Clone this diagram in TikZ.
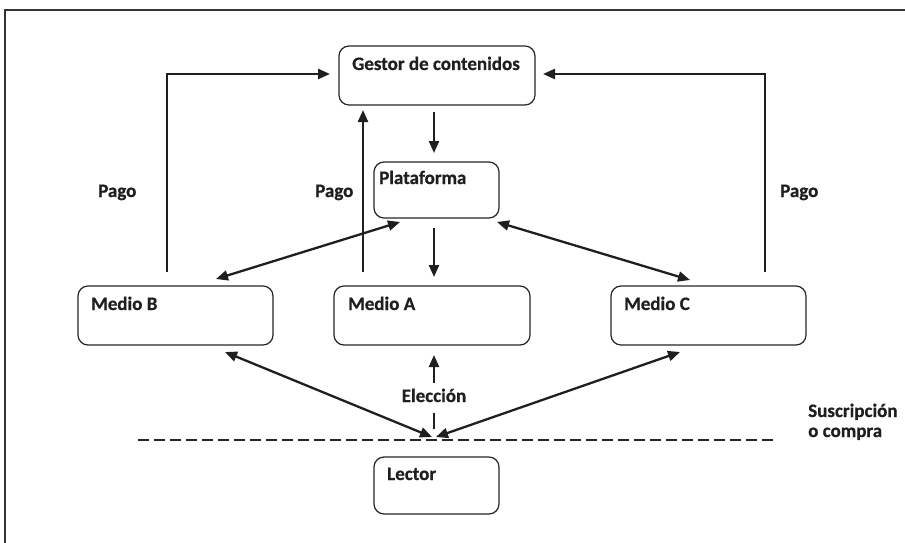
\documentclass[tikz,border=0pt]{standalone}
\usepackage{fontspec}
\setmainfont{Carlito}[BoldFeatures={FakeBold=0.6}]
\usetikzlibrary{arrows.meta,calc}
\begin{document}
\begin{tikzpicture}[x=1pt,y=-1pt,
  box/.style 2 args={draw=black!85, line width=1.2pt, rounded corners=10pt,
    minimum width=#1, minimum height=#2, inner sep=0pt, outer sep=0pt},
  lbl/.style={font=\fontsize{19}{22}\selectfont\bfseries, text=black!88,
    inner sep=0pt, anchor=base west},
  wire/.style={draw=black!88, line width=2.3pt},
  arr/.style={wire, -{Triangle[length=12pt,width=10pt]}},
  darr/.style={wire, {Triangle[length=12pt,width=10pt]}-{Triangle[length=12pt,width=10pt]}},
  cut/.style={draw=black!85, line width=2.8pt, dash pattern=on 10.5pt off 5.5pt}]

\useasboundingbox (0,0) rectangle (905,543);
\fill[white] (0,0) rectangle (905,543);

% page frame: top and left rules only
\draw[draw=black!80, line width=2pt] (5,543) -- (5,10) -- (905,10);

% boxes
\node[box={196pt}{59pt}] (gestor) at (437,75.5) {};
\node[box={125pt}{56pt}] (plat)   at (436.5,190) {};
\node[box={195pt}{59pt}] (medB)   at (175.5,315.5) {};
\node[box={196pt}{59pt}] (medA)   at (432,315.5) {};
\node[box={195pt}{59pt}] (medC)   at (708.5,315.5) {};
\node[box={125pt}{57pt}] (lector) at (436.5,485.5) {};

% box titles
\node[lbl] (gestorT) at ($(gestor.north west)+(13,24)$) {Gestor de contenidos};
\node[lbl] (platT)   at ($(plat.north west)+(5,22)$) {Plataforma};
\node[lbl] (medBT)   at ($(medB.north west)+(13,24)$) {Medio B};
\node[lbl] (medAT)   at ($(medA.north west)+(14,24)$) {Medio A};
\node[lbl] (medCT)   at ($(medC.north west)+(13,24)$) {Medio C};
\node[lbl] (lectorT) at ($(lector.north west)+(13,23)$) {Lector};

% content flow
\draw[arr] ($(gestor.south)+(-3,7)$) -- ($(plat.north)+(-2.5,-9)$);
\draw[arr] ($(plat.south)+(-2.5,10)$) -- ($(medA.north)+(2,-9)$);
\draw[darr] ($(plat.south west)+(26,4)$) -- ($(medB.north west)+(138,-7)$);
\draw[darr] ($(plat.south east)+(-2,4)$) -- ($(medC.north west)+(79,-6)$);

% payments
\draw[arr] ($(medB.north west)+(89,-14)$) |- ($(gestor.west)+(-9,-1.5)$);
\draw[arr] ($(medA.north west)+(29,-14)$) -- ($(gestor.south west)+(24,5)$);
\draw[arr] ($(medC.north east)+(-41,-14)$) |- ($(gestor.east)+(8,-1.5)$);
\node[lbl] (pagoB) at (98,197) {Pago};
\node[lbl] (pagoA) at (315,197) {Pago};
\node[lbl] (pagoC) at (780,197) {Pago};

% reader side
\coordinate (j) at ($(lector.north)+(-2.5,-20)$);
\draw[darr] ($(medB.south west)+(147,7)$) -- ($(j)+(-2,0)$);
\draw[darr] ($(medC.south west)+(69,7)$) -- ($(j)+(2,0)$);

\draw[cut] (138,440) -- (775,440);
\node[lbl] (sus1) at (808,417) {Suscripción};
\node[lbl] (sus2) at (808,437) {o compra};

\node[lbl, anchor=base] (elec) at (434,402) {Elección};
\draw[wire] ($(j)+(0,-8)$) -- ($(elec.base)+(0,11)$);
\draw[arr] ($(elec.base)+(0,-19)$) -- ($(medA.south)+(2,10)$);

\end{tikzpicture}
\end{document}
